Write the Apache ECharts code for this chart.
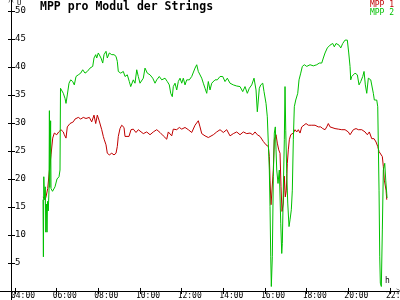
<!DOCTYPE html>
<html><head><meta charset="utf-8">
<script src="https://cdn.jsdelivr.net/npm/echarts@6/dist/echarts.min.js"></script>
<style>html,body{margin:0;padding:0;background:#fff}#c{width:400px;height:300px}</style>
</head><body><div id="c"></div>
<script>
// time in decimal hours, values in V
const mpp1Times = [5.344,5.440,5.488,5.570,5.646,5.728,5.810,5.886,6.002,6.098,6.208,6.318,6.366,6.448,6.510,6.640,6.798,6.880,6.962,7.038,7.154,7.278,7.408,7.566,7.682,7.792,7.874,7.950,8.032,8.114,8.162,8.238,8.286,8.368,8.430,8.526,8.642,8.752,8.848,8.910,8.958,9.040,9.122,9.232,9.280,9.362,9.472,9.568,9.678,9.808,9.918,10.000,10.158,10.322,10.480,10.638,10.802,10.960,11.118,11.282,11.358,11.522,11.598,11.762,11.886,12.002,12.160,12.318,12.482,12.640,12.798,12.880,12.962,13.120,13.278,13.360,13.518,13.682,13.840,13.998,14.162,14.320,14.478,14.642,14.800,14.958,15.122,15.280,15.410,15.520,15.630,15.760,15.918,16.048,16.158,16.206,16.240,16.288,16.336,16.398,16.446,16.528,16.590,16.658,16.720,16.768,16.816,16.878,16.926,16.974,17.022,17.070,17.118,17.166,17.234,17.358,17.440,17.522,17.598,17.680,17.762,17.838,17.968,18.078,18.242,18.400,18.558,18.674,18.770,18.880,18.962,19.038,19.120,19.202,19.360,19.518,19.682,19.840,19.998,20.080,20.238,20.368,20.478,20.642,20.800,20.910,21.006,21.122,21.232,21.328,21.410,21.472,21.554,21.630,21.678,21.726,21.760,21.808,21.842];
const mpp1Values = [16.8,16.3,16.8,18.3,21.3,24.3,27.3,28.2,27.9,28.4,28.8,28.4,27.9,27.3,29.3,29.9,30.2,30.7,30.5,31.0,30.7,31.0,30.8,31.0,30.2,31.4,29.9,31.4,30.5,30.8,28.8,27.6,27.0,26.1,24.6,24.3,24.6,24.3,24.6,25.8,27.6,29.0,29.6,29.2,27.6,27.9,27.6,28.8,28.9,28.3,28.8,28.8,28.1,28.4,27.9,28.4,28.8,28.3,27.7,27.1,28.4,27.7,28.9,28.8,29.2,28.9,29.2,28.8,28.3,29.6,30.4,29.3,28.1,27.7,27.4,27.1,27.9,28.4,28.8,28.3,28.8,27.7,28.1,28.4,27.9,28.4,28.1,28.2,27.9,28.4,27.9,27.6,26.7,26.1,25.8,24.0,19.8,15.4,15.7,21.6,27.0,27.9,26.4,25.2,24.6,18.6,14.2,15.7,20.5,16.8,18.0,22.8,25.2,27.0,27.9,28.2,28.8,28.4,28.8,28.2,29.3,29.6,29.9,29.6,29.6,29.6,29.3,29.3,29.0,28.8,29.3,29.9,29.3,29.0,29.0,28.9,28.8,28.8,28.4,27.9,28.8,29.0,28.8,28.8,28.4,27.9,28.4,27.2,27.2,26.6,25.8,24.9,24.6,24.0,22.2,19.8,20.1,18.0,16.3];

const mpp2Times = [5.344,5.363,5.382,5.421,5.454,5.478,5.512,5.536,5.560,5.598,5.632,5.651,5.670,5.709,5.728,5.800,5.920,6.016,6.112,6.160,6.184,6.270,6.318,6.400,6.448,6.510,6.592,6.674,6.770,6.846,6.928,7.038,7.154,7.250,7.360,7.470,7.600,7.730,7.792,7.874,7.922,7.998,8.080,8.128,8.210,8.272,8.368,8.430,8.526,8.642,8.752,8.848,8.910,8.958,9.074,9.198,9.280,9.390,9.486,9.554,9.678,9.760,9.842,9.918,10.000,10.082,10.158,10.240,10.350,10.480,10.610,10.720,10.802,10.926,11.042,11.200,11.310,11.406,11.474,11.550,11.598,11.680,11.762,11.838,11.920,12.002,12.078,12.160,12.242,12.366,12.482,12.558,12.640,12.722,12.798,12.880,12.962,13.038,13.120,13.202,13.278,13.360,13.442,13.518,13.600,13.710,13.840,13.970,14.080,14.190,14.320,14.478,14.642,14.800,14.930,15.040,15.150,15.246,15.362,15.472,15.568,15.630,15.678,15.726,15.794,15.890,15.952,16.048,16.110,16.158,16.206,16.240,16.274,16.302,16.350,16.398,16.446,16.494,16.528,16.562,16.624,16.686,16.754,16.802,16.830,16.878,16.926,16.960,16.994,17.042,17.090,17.152,17.200,17.262,17.310,17.358,17.406,17.474,17.522,17.570,17.632,17.714,17.790,17.886,18.002,18.160,18.318,18.482,18.606,18.722,18.798,18.880,18.990,19.120,19.250,19.326,19.408,19.470,19.552,19.634,19.730,19.840,19.950,20.018,20.080,20.114,20.162,20.238,20.320,20.430,20.512,20.594,20.690,20.752,20.814,20.882,20.958,21.074,21.136,21.198,21.246,21.328,21.362,21.410,21.472,21.506,21.534,21.582,21.630,21.678,21.746,21.794,21.842,21.856];
const mpp2Values = [16.3,6.1,20.4,16.3,18.6,10.5,15.5,10.5,16.0,14.3,18.0,32.2,18.5,30.4,18.3,17.8,18.6,20.0,20.4,21.6,36.2,36.5,35.3,34.4,33.5,35.0,37.1,37.7,37.4,36.8,38.3,38.6,38.9,39.5,38.9,39.2,39.8,40.1,41.6,42.2,41.6,42.5,42.8,41.6,40.7,42.2,42.8,41.6,42.5,42.2,42.2,41.9,41.0,39.2,38.9,39.2,38.3,38.6,37.4,36.5,37.7,37.1,39.5,38.3,37.1,36.8,38.0,39.8,38.9,38.6,38.0,37.1,37.7,38.3,37.7,38.0,37.4,36.8,35.3,34.7,36.5,37.1,35.9,37.4,38.0,37.1,38.0,36.8,37.7,37.7,38.3,38.6,39.8,40.4,39.2,38.9,38.0,37.1,36.2,35.3,37.4,35.9,37.1,36.8,37.7,37.7,38.3,38.3,37.4,38.0,37.1,36.8,36.6,36.5,35.6,36.5,35.3,36.2,36.8,38.0,35.9,32.0,31.7,36.2,36.8,37.1,35.6,33.5,31.1,26.4,21.6,15.1,6.1,0.8,6.1,20.4,28.2,29.3,25.2,21.6,19.2,21.6,12.1,6.7,8.5,18.0,27.0,36.5,28.7,21.0,15.7,11.5,12.7,14.5,18.0,27.0,32.9,34.1,34.4,35.3,37.7,38.9,40.1,40.4,40.1,40.4,40.2,40.4,40.7,40.7,41.6,42.5,43.4,43.9,44.2,43.6,44.2,44.5,43.9,43.4,44.2,44.8,44.8,42.5,40.1,37.7,38.3,38.6,38.9,38.6,36.8,37.4,38.3,39.2,36.8,35.3,38.0,37.7,38.0,35.3,34.1,33.8,34.1,32.9,18.0,6.1,1.4,0.8,10.9,21.6,22.8,19.8,17.4,16.6];

const timeTicks = [4,6,8,10,12,14,16,18,20,22];
const voltTicks = [5,10,15,20,25,30,35,40,45,50];
const seriesNames = ['MPP 1','MPP 2'];
const seriesColors = ['#c00000','#00c000'];

const font = 'DejaVu Sans Mono';
const chevron = 'path://M0,10 L5,0 L10,10 L9,10 L5,2 L1,10 Z';
const xRange = {min: 3.28, max: 22.43};
const yRange = {min: -1.61, max: 51.96};
const fmtTime = v => (v < 10 ? '0' : '') + v + ':00';

const chart = echarts.init(document.getElementById('c'), null, {renderer: 'canvas'});
chart.setOption({
  animation: false,
  backgroundColor: '#fff',
  grid: {left: 0, right: 1, top: 0, bottom: 0, containLabel: false, outerBoundsMode: 'none'},
  title: {text: 'MPP pro Modul der Strings', left: 40, top: 1.5, padding: 0,
    textStyle: {fontFamily: font, fontSize: 11.5, fontWeight: 'bold', color: '#000', lineHeight: 11.5}},
  legend: {orient: 'vertical', right: 6, top: 0.5, padding: 0, itemGap: 0, itemWidth: 0, itemHeight: 8,
    icon: 'none', align: 'left', selectedMode: false,
    textStyle: {fontFamily: font, fontSize: 8, lineHeight: 8, padding: 0},
    data: seriesNames.map((n, i) => ({name: n, textStyle: {color: seriesColors[i]}}))},
  xAxis: [{
    type: 'value', min: xRange.min, max: xRange.max,
    axisLine: {onZero: true, lineStyle: {color: '#000', width: 1}, symbol: ['none', chevron], symbolSize: [7, 5]},
    axisTick: {show: true, inside: false, length: 3, customValues: timeTicks, lineStyle: {color: '#000'}},
    axisLabel: {show: false},
    splitLine: {show: false}
  }, {
    type: 'value', min: xRange.min, max: xRange.max, position: 'bottom',
    axisLine: {show: false, onZero: false},
    axisTick: {show: false},
    axisLabel: {customValues: timeTicks, formatter: fmtTime, fontFamily: font, fontSize: 8, lineHeight: 8,
      color: '#000', margin: -8, padding: [0, 0, 0, 16], align: 'center', hideOverlap: false},
    splitLine: {show: false}
  }, {
    type: 'value', min: xRange.min, max: xRange.max, position: 'bottom',
    axisLine: {show: false, onZero: true},
    axisTick: {show: true, inside: true, length: 3, customValues: timeTicks, lineStyle: {color: '#000'}},
    axisLabel: {show: false}, splitLine: {show: false}
  }],
  yAxis: [{
    type: 'value', min: yRange.min, max: yRange.max, position: 'left', offset: -11,
    axisLine: {onZero: false, lineStyle: {color: '#000', width: 1}, symbol: ['none', chevron], symbolSize: [7, 5]},
    axisTick: {show: true, inside: false, length: 3, customValues: voltTicks, lineStyle: {color: '#000'}},
    axisLabel: {customValues: voltTicks, inside: true, margin: 4, fontFamily: font, fontSize: 9, color: '#000'},
    splitLine: {show: false}
  }, {
    type: 'value', min: yRange.min, max: yRange.max, position: 'left', offset: -11,
    axisLine: {show: false, onZero: false},
    axisTick: {show: true, inside: true, length: 4, customValues: voltTicks, lineStyle: {color: '#000'}},
    axisLabel: {show: false}, splitLine: {show: false}
  }],
  graphic: [
    {type: 'text', left: 17, top: 0, style: {text: 'U', font: '7px "DejaVu Sans Mono"', fill: '#000'}},
    {type: 'text', left: 385, top: 277, style: {text: 'h', font: '8px "DejaVu Sans Mono"', fill: '#000'}}
  ],
  series: [
    {name: seriesNames[0], type: 'line', xAxisIndex: 0, yAxisIndex: 0, showSymbol: false, symbol: 'none',
      color: seriesColors[0], lineStyle: {width: 1, color: seriesColors[0]},
      data: mpp1Times.map((t, i) => [t, mpp1Values[i]])},
    {name: seriesNames[1], type: 'line', xAxisIndex: 0, yAxisIndex: 0, showSymbol: false, symbol: 'none',
      color: seriesColors[1], lineStyle: {width: 1, color: seriesColors[1]},
      data: mpp2Times.map((t, i) => [t, mpp2Values[i]])}
  ]
});
</script></body></html>
